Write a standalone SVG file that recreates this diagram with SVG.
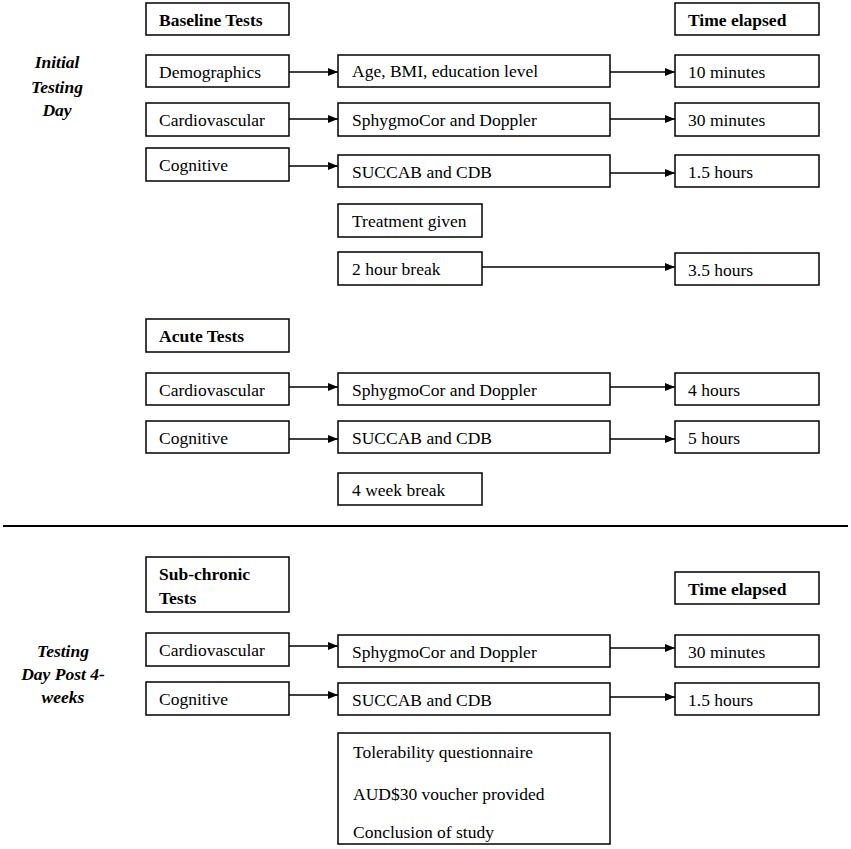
<svg xmlns="http://www.w3.org/2000/svg" width="851" height="849" viewBox="0 0 851 849">
<defs>
<marker id="ah" markerWidth="10" markerHeight="8" refX="10" refY="4" orient="auto" markerUnits="userSpaceOnUse">
<path d="M0,0 L10,4 L0,8 Z" fill="#000"/>
</marker>
<style>
.b{fill:#fff;stroke:#000;stroke-width:1.5}
.t{font-family:"Liberation Serif","Times New Roman",serif;font-size:17.5px;fill:#000}
.bd{font-weight:bold}
.side{font-family:"Liberation Serif","Times New Roman",serif;font-size:17.5px;font-weight:bold;font-style:italic;fill:#000;text-anchor:middle}
.c{stroke:#000;stroke-width:1.5;fill:none;marker-end:url(#ah)}
</style>
</defs>
<rect width="851" height="849" fill="#fff"/>

<g id="label-initial">
<text class="side" x="57" y="68">Initial</text>
<text class="side" x="57" y="93">Testing</text>
<text class="side" x="57" y="116">Day</text>
</g>
<g id="label-post">
<text class="side" x="63" y="657">Testing</text>
<text class="side" x="63" y="680">Day Post 4-</text>
<text class="side" x="63" y="703">weeks</text>
</g>

<line x1="3" y1="526" x2="848" y2="526" stroke="#000" stroke-width="2"/>

<g id="connectors">
<line class="c" x1="289" y1="72" x2="338" y2="72"/>
<line class="c" x1="289" y1="119" x2="338" y2="119"/>
<line class="c" x1="289" y1="166" x2="338" y2="166"/>
<line class="c" x1="610" y1="72" x2="675" y2="72"/>
<line class="c" x1="610" y1="119" x2="675" y2="119"/>
<line class="c" x1="610" y1="173" x2="675" y2="173"/>
<line class="c" x1="482" y1="267" x2="675" y2="267"/>
<line class="c" x1="289" y1="387" x2="338" y2="387"/>
<line class="c" x1="289" y1="439" x2="338" y2="439"/>
<line class="c" x1="610" y1="387" x2="675" y2="387"/>
<line class="c" x1="610" y1="439" x2="675" y2="439"/>
<line class="c" x1="289" y1="646" x2="338" y2="646"/>
<line class="c" x1="289" y1="695" x2="338" y2="695"/>
<line class="c" x1="610" y1="648" x2="675" y2="648"/>
<line class="c" x1="610" y1="697" x2="675" y2="697"/>
</g>

<g id="baseline-tests"><rect class="b" x="146" y="3" width="143" height="32"/><text class="t bd" x="159" y="26">Baseline Tests</text></g>
<g id="time-elapsed-1"><rect class="b" x="675" y="3" width="144" height="32"/><text class="t bd" x="688" y="26">Time elapsed</text></g>

<g id="demographics"><rect class="b" x="146" y="55" width="143" height="32"/><text class="t" x="159" y="78">Demographics</text></g>
<g id="cardio-1"><rect class="b" x="146" y="103" width="143" height="33"/><text class="t" x="159" y="126">Cardiovascular</text></g>
<g id="cognitive-1"><rect class="b" x="146" y="148" width="143" height="33"/><text class="t" x="159" y="171">Cognitive</text></g>

<g id="age"><rect class="b" x="338" y="55" width="272" height="32"/><text class="t" x="352" y="77">Age, BMI, education level</text></g>
<g id="sphygmo-1"><rect class="b" x="338" y="103" width="272" height="33"/><text class="t" x="352" y="126">SphygmoCor and Doppler</text></g>
<g id="succab-1"><rect class="b" x="338" y="155" width="272" height="32"/><text class="t" x="352" y="178">SUCCAB  and CDB</text></g>

<g id="t-10min"><rect class="b" x="675" y="55" width="144" height="32"/><text class="t" x="688" y="78">10 minutes</text></g>
<g id="t-30min-1"><rect class="b" x="675" y="103" width="144" height="33"/><text class="t" x="688" y="126">30 minutes</text></g>
<g id="t-1-5h-1"><rect class="b" x="675" y="155" width="144" height="32"/><text class="t" x="688" y="178">1.5 hours</text></g>

<g id="treatment"><rect class="b" x="338" y="204" width="144" height="33"/><text class="t" x="352" y="227">Treatment given</text></g>
<g id="break-2h"><rect class="b" x="338" y="252" width="144" height="33"/><text class="t" x="352" y="275">2 hour break</text></g>
<g id="t-3-5h"><rect class="b" x="675" y="253" width="144" height="32"/><text class="t" x="688" y="276">3.5 hours</text></g>

<g id="acute-tests"><rect class="b" x="146" y="319" width="143" height="33"/><text class="t bd" x="159" y="342">Acute  Tests</text></g>
<g id="cardio-2"><rect class="b" x="146" y="373" width="143" height="32"/><text class="t" x="159" y="396">Cardiovascular</text></g>
<g id="cognitive-2"><rect class="b" x="146" y="421" width="143" height="32"/><text class="t" x="159" y="444">Cognitive</text></g>
<g id="sphygmo-2"><rect class="b" x="338" y="373" width="272" height="32"/><text class="t" x="352" y="396">SphygmoCor and Doppler</text></g>
<g id="succab-2"><rect class="b" x="338" y="421" width="272" height="32"/><text class="t" x="352" y="444">SUCCAB  and CDB</text></g>
<g id="t-4h"><rect class="b" x="675" y="373" width="144" height="32"/><text class="t" x="688" y="396">4 hours</text></g>
<g id="t-5h"><rect class="b" x="675" y="421" width="144" height="32"/><text class="t" x="688" y="444">5 hours</text></g>
<g id="break-4w"><rect class="b" x="338" y="473" width="144" height="32"/><text class="t" x="352" y="496">4 week break</text></g>

<g id="subchronic-tests"><rect class="b" x="146" y="557" width="143" height="55"/><text class="t bd" x="159" y="580">Sub-chronic</text><text class="t bd" x="159" y="604">Tests</text></g>
<g id="time-elapsed-2"><rect class="b" x="675" y="572" width="144" height="32"/><text class="t bd" x="688" y="595">Time elapsed</text></g>
<g id="cardio-3"><rect class="b" x="146" y="633" width="143" height="33"/><text class="t" x="159" y="656">Cardiovascular</text></g>
<g id="cognitive-3"><rect class="b" x="146" y="682" width="143" height="33"/><text class="t" x="159" y="705">Cognitive</text></g>
<g id="sphygmo-3"><rect class="b" x="338" y="635" width="272" height="32"/><text class="t" x="352" y="658">SphygmoCor and Doppler</text></g>
<g id="succab-3"><rect class="b" x="338" y="683" width="272" height="32"/><text class="t" x="352" y="706">SUCCAB  and CDB</text></g>
<g id="t-30min-2"><rect class="b" x="675" y="635" width="144" height="32"/><text class="t" x="688" y="658">30 minutes</text></g>
<g id="t-1-5h-2"><rect class="b" x="675" y="683" width="144" height="32"/><text class="t" x="688" y="706">1.5 hours</text></g>

<g id="conclusion"><rect class="b" x="338" y="733" width="272" height="111"/>
<text class="t" x="353" y="758">Tolerability  questionnaire</text>
<text class="t" x="353" y="800">AUD$30  voucher provided</text>
<text class="t" x="353" y="838">Conclusion of study</text>
</g>
</svg>
